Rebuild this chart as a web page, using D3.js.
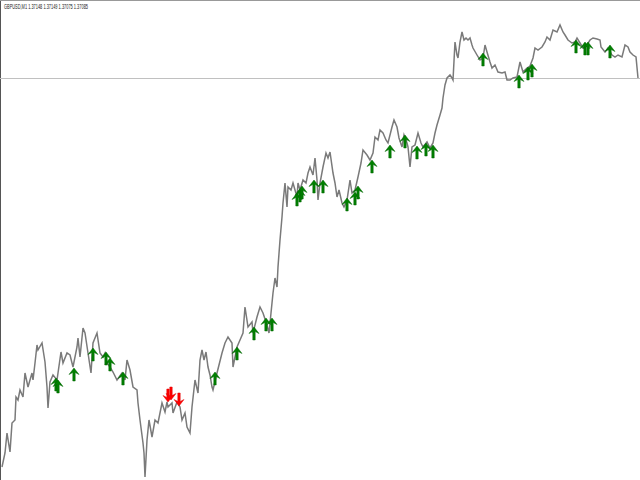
<!DOCTYPE html>
<html><head><meta charset="utf-8">
<script src="https://cdn.jsdelivr.net/npm/d3@7"></script>
<style>html,body{margin:0;padding:0;background:#fff;}svg{display:block;}</style>
</head><body>
<script>
const symbolTitle = "GBPUSD,M1  1.37148 1.37149 1.37075 1.37085";
const bars = [2,5,7,10,12,15,16,18,20,23,25,28,32,33,35,37,38,42,45,47,48,50,53,57,58,61,63,67,70,73,77,78,80,83,85,88,91,93,97,100,
103,105,107,110,113,117,122,125,127,130,133,137,138,140,143,144,145,147,149,152,155,158,162,165,167,168,172,173,177,180,182,185,187,190,192,195,198,
200,202,204,206,208,210,212,213,217,222,225,228,232,233,237,240,243,245,248,252,253,257,260,263,267,269,271,273,275,277,278,280,282,283,285,287,288,291,293,297,298,
300,303,306,308,310,313,315,317,318,320,323,326,328,330,333,335,337,339,342,344,347,350,352,355,358,361,363,367,370,373,375,378,380,383,386,388,392,394,397,399,
402,404,407,408,410,412,415,418,421,423,427,430,433,435,437,440,442,443,445,447,450,452,453,455,457,458,460,462,464,466,468,470,472,473,477,480,483,485,487,490,492,495,498,
502,505,507,510,513,517,520,523,527,530,533,535,538,542,545,547,550,553,557,560,563,565,568,572,575,577,580,583,587,590,593,597,600,601,605,608,612,615,618,622,625,628,630,633,636,638];
const closes = [1.36306,1.36334,1.36374,1.36336,1.36394,1.36400,1.36446,1.36440,1.36460,1.36446,1.36494,1.36466,1.36494,1.36480,1.36514,1.36550,1.36540,1.36554,1.36516,1.36466,
1.36424,1.36476,1.36490,1.36480,1.36494,1.36536,1.36514,1.36534,1.36530,1.36506,1.36546,1.36564,1.36526,1.36584,1.36574,1.36534,1.36494,1.36554,1.36574,1.36534,
1.36526,1.36534,1.36514,1.36506,1.36496,1.36480,1.36494,1.36480,1.36520,1.36500,1.36466,1.36460,1.36434,1.36400,1.36354,1.36334,1.36286,1.36360,1.36400,1.36366,
1.36400,1.36394,1.36434,1.36416,1.36436,1.36426,1.36434,1.36414,1.36436,1.36426,1.36400,1.36414,1.36386,1.36374,1.36426,1.36480,1.36454,
1.36520,1.36540,1.36520,1.36536,1.36506,1.36490,1.36466,1.36460,1.36494,1.36534,1.36554,1.36566,1.36554,1.36506,1.36546,1.36560,1.36574,1.36626,1.36586,1.36596,1.36574,
1.36606,1.36626,1.36614,1.36590,1.36574,1.36614,1.36654,1.36684,1.36666,1.36706,1.36760,1.36806,1.36834,1.36874,1.36826,1.36866,1.36860,1.36874,1.36846,1.36874,
1.36860,1.36880,1.36874,1.36894,1.36906,1.36890,1.36924,1.36880,1.36840,1.36874,1.36906,1.36934,1.36924,1.36936,1.36894,1.36874,1.36846,1.36860,1.36834,1.36826,
1.36840,1.36880,1.36854,1.36860,1.36886,1.36914,1.36940,1.36930,1.36920,1.36934,1.36966,1.36960,1.36980,1.36974,1.36960,1.36954,1.36986,1.37000,1.36986,1.36964,
1.36946,1.36970,1.36954,1.36946,1.36906,1.36946,1.36950,1.36974,1.36954,1.36946,1.36956,1.36944,1.36954,1.36974,1.36990,1.37010,1.37024,1.37044,1.37070,1.37084,
1.37090,1.37084,1.37080,1.37156,1.37130,1.37124,1.37156,1.37176,1.37160,1.37164,1.37160,1.37164,1.37150,1.37144,1.37130,1.37120,1.37124,1.37150,1.37136,1.37116,
1.37104,1.37110,1.37096,1.37094,1.37096,1.37080,1.37080,1.37084,1.37086,1.37116,1.37096,1.37104,1.37108,1.37124,1.37144,1.37140,1.37146,1.37156,1.37166,1.37160,
1.37180,1.37176,1.37190,1.37176,1.37170,1.37160,1.37154,1.37156,1.37164,1.37154,1.37144,1.37150,1.37160,1.37164,1.37162,1.37160,1.37146,1.37136,1.37144,1.37130,
1.37126,1.37130,1.37126,1.37150,1.37146,1.37136,1.37130,1.37126,1.37084];
const bidPrice = 1.37084;
const upBars =   [56,58,74,93,106,110,123,215,237,254,266,272,297,300,302,314,323,347,355,358,372,390,405,417,426,433,483,519,528,532,576,585,588,610];
const upPrices = [1.36484,1.36480,1.36504,1.36544,1.36536,1.36524,1.36496,1.36496,1.36546,1.36586,1.36604,1.36604,1.36854,1.36862,1.36868,1.36880,1.36880,1.36844,1.36856,1.36868,
1.36920,1.36950,1.36970,1.36948,1.36954,1.36950,1.37134,1.37090,1.37106,1.37112,1.37160,1.37156,1.37156,1.37150];
const downBars =   [168,171,179];
const downPrices = [1.36436,1.36440,1.36428];

const W = 640, H = 480;
const svg = d3.select("body").append("svg").attr("width", W).attr("height", H);
const x = d3.scaleLinear().domain([0, 640]).range([0, W]);
const y = d3.scaleLinear().domain([1.36280, 1.37240]).range([H, 0]);

// frame
svg.append("line").attr("x1",0.5).attr("x2",0.5).attr("y1",0).attr("y2",H).attr("stroke","#555").attr("stroke-width",1);
svg.append("line").attr("x1",0).attr("x2",W).attr("y1",0.5).attr("y2",0.5).attr("stroke","#999").attr("stroke-width",1);

// bid line
svg.append("line").attr("x1",0).attr("x2",W).attr("y1",Math.round(y(bidPrice))+0.5).attr("y2",Math.round(y(bidPrice))+0.5)
  .attr("stroke","#c0c0c0").attr("stroke-width",1);

// price line
const pts = bars.map((b,i)=>[b, closes[i]]);
svg.append("path").datum(pts)
  .attr("fill","none").attr("stroke","#7a7a7a").attr("stroke-width",1.5).attr("stroke-linejoin","miter")
  .attr("d", d3.line().x(d=>x(d[0])).y(d=>y(d[1])));

// arrows
const upPath = "M0,0 L5,6.5 L1.2,4.5 L1.2,13 L-1.2,13 L-1.2,4.5 L-5,6.5 Z";
const downPath = "M0,0 L5,-6.5 L1.2,-4.5 L1.2,-13 L-1.2,-13 L-1.2,-4.5 L-5,-6.5 Z";
svg.append("g").selectAll("path").data(upBars.map((b,i)=>[b, upPrices[i]])).join("path")
  .attr("d", upPath).attr("transform", d=>`translate(${x(d[0])},${y(d[1])})`)
  .attr("fill","#008000").attr("stroke","#006400").attr("stroke-width",0.5);
svg.append("g").selectAll("path").data(downBars.map((b,i)=>[b, downPrices[i]])).join("path")
  .attr("d", downPath).attr("transform", d=>`translate(${x(d[0])},${y(d[1])})`)
  .attr("fill","#ff0000").attr("stroke","#e00000").attr("stroke-width",0.5);

// title
svg.append("text").attr("x",4).attr("y",9).attr("font-family","Liberation Sans, Arial, sans-serif")
  .attr("font-size",7).attr("fill","#222").attr("textLength",84).attr("lengthAdjust","spacingAndGlyphs")
  .text(symbolTitle);
</script>
</body></html>
